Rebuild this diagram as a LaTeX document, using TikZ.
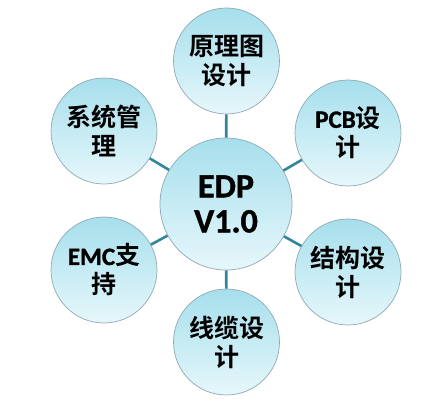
\documentclass[tikz,border=0pt]{standalone}
\usepackage{fontspec}
\setmainfont{Carlito}[BoldFont={Carlito Bold},BoldFeatures={FakeBold=1.2}]
\newfontfamily\cjk{Noto Sans CJK SC}[BoldFont={Noto Sans CJK SC Bold}]
\definecolor{ctop}{HTML}{A6DFEC}
\definecolor{cbot}{HTML}{E6F7FB}
\definecolor{cline}{HTML}{31859C}
\definecolor{cedge}{HTML}{8FA9B3}
\begin{document}
\begin{tikzpicture}[x=1pt,y=1pt,
  bub/.style={circle, draw=cedge, line width=0.7pt, top color=ctop, bottom color=cbot, inner sep=0pt, align=center, text=black},
  outer/.style={bub, minimum size=106pt, font=\fontsize{25}{29}\selectfont\bfseries},
  hub/.style={bub, minimum size=132pt, font=\fontsize{34}{37}\selectfont\bfseries},
  link/.style={draw=cline, line width=2.6pt}]
\useasboundingbox (0,0) rectangle (437,407);
\node[hub] (c) at (226,203) {EDP\\[-2pt]V1.0};
\node[outer] (t) at (226.5,346) {\cjk\bfseries 原理图\\\cjk\bfseries 设计};
\node[outer] (tr) at (348,274) {PCB{\cjk\bfseries 设}\\\cjk\bfseries 计};
\node[outer] (br) at (348,135) {\cjk\bfseries 结构设\\\cjk\bfseries 计};
\node[outer] (b) at (226.5,65) {\cjk\bfseries 线缆设\\\cjk\bfseries 计};
\node[outer] (tl) at (104,276) {\cjk\bfseries 系统管\\\cjk\bfseries 理};
\node[outer] (bl) at (104,137) {EMC{\cjk\bfseries 支}\\\cjk\bfseries 持};
\foreach \n in {t,tr,br,b,tl,bl} \draw[link] (c) -- (\n);
\end{tikzpicture}
\end{document}
